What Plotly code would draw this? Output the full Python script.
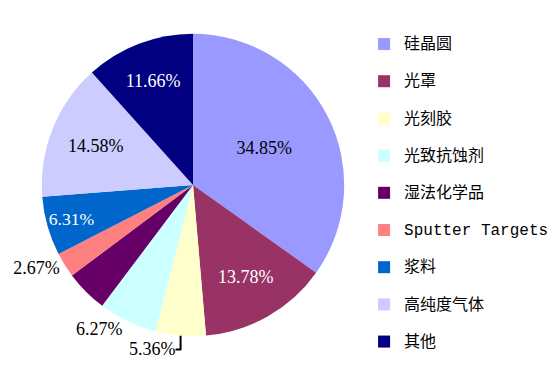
import plotly.graph_objects as go

categories = ["硅晶圆", "光罩", "光刻胶", "光致抗蚀剂", "湿法化学品",
              "Sputter Targets", "浆料", "高纯度气体", "其他"]
shares = [34.85, 13.78, 5.36, 6.27, 4.52, 2.67, 6.31, 14.58, 11.66]
show_label = [True, True, True, True, False, True, True, True, True]

colors = ["#9999FF", "#993366", "#FFFFCC", "#CCFFFF", "#660066",
          "#FF8080", "#0066CC", "#CCCCFF", "#000080"]
text_colors = ["black", "white", "black", "black", "black",
               "black", "white", "black", "white"]
text_pos = ["inside", "inside", "outside", "outside", "inside",
            "outside", "inside", "inside", "inside"]

LEG_FONT = "Liberation Mono, Noto Sans CJK SC, monospace"
PIE_FONT = "Liberation Serif, Noto Sans CJK SC, serif"

legend_labels = [f"<span style='font-size:16px'>{c}</span><br> " for c in categories]
templates = ["%{value:.2f}%" if s else "" for s in show_label]

fig = go.Figure(go.Pie(
    labels=legend_labels,
    values=shares,
    sort=False,
    direction="clockwise",
    rotation=0,
    marker=dict(colors=colors, line=dict(width=0)),
    texttemplate=templates,
    textposition=text_pos,
    insidetextorientation="horizontal",
    textfont=dict(family=PIE_FONT, size=18, color=text_colors),
    outsidetextfont=dict(family=PIE_FONT, size=18, color="black"),
    hoverinfo="skip",
    domain=dict(x=[31 / 555, 335 / 555], y=[40 / 369, 344 / 369]),
))

fig.update_layout(
    width=555, height=369,
    margin=dict(l=0, r=0, t=0, b=0),
    paper_bgcolor="white",
    plot_bgcolor="white",
    showlegend=True,
    legend=dict(
        x=355 / 555, xanchor="left",
        y=1 - 21 / 369, yanchor="top",
        font=dict(family=LEG_FONT, size=13.15, color="black"),
        valign="top",
        bgcolor="rgba(0,0,0,0)",
        traceorder="normal",
    ),
    font=dict(family=LEG_FONT),
)

fig.write_html("out.html")
